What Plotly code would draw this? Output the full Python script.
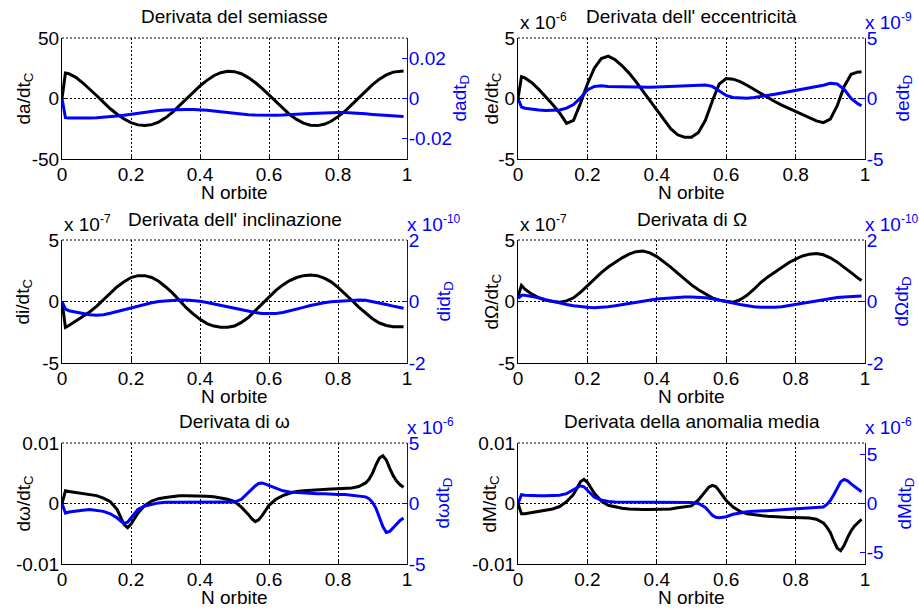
import plotly.graph_objects as go

# ---------------- data ----------------
X_TOP = [0, 0.01, 0.02, 0.04, 0.06, 0.08, 0.10, 0.12, 0.14, 0.16,
         0.18, 0.20, 0.22, 0.24, 0.26, 0.28, 0.30, 0.32, 0.34, 0.36,
         0.38, 0.40, 0.42, 0.44, 0.46, 0.48, 0.50, 0.52, 0.54, 0.56,
         0.58, 0.60, 0.62, 0.64, 0.66, 0.68, 0.70, 0.72, 0.74, 0.76,
         0.78, 0.80, 0.82, 0.84, 0.86, 0.88, 0.90, 0.92, 0.94, 0.96,
         0.98, 0.99]

X_BOTTOM = [0, 0.01, 0.02, 0.04, 0.06, 0.08, 0.10, 0.12, 0.14, 0.16,
            0.17, 0.18, 0.19, 0.20, 0.22, 0.24, 0.26, 0.28, 0.30, 0.32,
            0.34, 0.36, 0.38, 0.40, 0.42, 0.44, 0.46, 0.48, 0.50, 0.52,
            0.54, 0.55, 0.56, 0.57, 0.58, 0.59, 0.60, 0.62, 0.64, 0.66,
            0.68, 0.70, 0.72, 0.74, 0.76, 0.78, 0.80, 0.82, 0.84, 0.86,
            0.88, 0.89, 0.90, 0.91, 0.92, 0.93, 0.94, 0.95, 0.96, 0.97,
            0.98, 0.99]

# semi-major axis derivative
SEMI_C = [0, 21, 20.5, 17.5, 13, 8, 2.5, -3, -8.5, -13,
          -17, -20, -21.8, -22.4, -21.6, -19.5, -16, -11.5, -6, -0.5,
          5, 10.5, 15, 18.8, 21.3, 22.5, 22.2, 20.5, 17.3, 13.2,
          8.3, 2.8, -2.8, -8.3, -13.2, -17.3, -20.4, -22.1, -22.4, -21.3,
          -18.8, -15, -10.5, -5, 0.5, 6, 11.5, 16, 19.5, 21.8,
          22.8, 22.7]
SEMI_D = [0, -0.0095, -0.0097, -0.0098, -0.0098, -0.0097, -0.0096, -0.0094, -0.0091, -0.0087,
          -0.0083, -0.0078, -0.0073, -0.0068, -0.0064, -0.0060, -0.0057, -0.0055, -0.0054, -0.0054,
          -0.0054, -0.0055, -0.0058, -0.0062, -0.0066, -0.0070, -0.0074, -0.0077, -0.0080, -0.0082,
          -0.0083, -0.0083, -0.0083, -0.0082, -0.0081, -0.0079, -0.0077, -0.0075, -0.0073, -0.0071,
          -0.0070, -0.0069, -0.0070, -0.0071, -0.0073, -0.0076, -0.0079, -0.0082, -0.0084, -0.0086,
          -0.0088, -0.0089]

# eccentricity derivative (C: x1e-6, D: x1e-9)
ECC_C = [0, 1.8, 1.7, 1.3, 0.75, 0.15, -0.5, -1.2, -2.05, -1.8,
         -0.4, 1.2, 2.5, 3.3, 3.5, 3.2, 2.7, 2.1, 1.4, 0.6,
         -0.2, -1.0, -1.8, -2.5, -3.0, -3.2, -3.2, -2.8, -1.8, -0.2,
         1.2, 1.65, 1.6, 1.4, 1.1, 0.75, 0.4, 0.05, -0.25, -0.55,
         -0.8, -1.05, -1.3, -1.55, -1.85, -2.0, -1.7, -0.6, 1.0, 2.0,
         2.2, 2.2]
ECC_D = [0, -0.7, -0.8, -0.9, -0.95, -1.0, -1.0, -0.95, -0.8, -0.5,
         0.05, 0.7, 1.0, 1.05, 1.0, 0.98, 0.95, 0.93, 0.9, 0.9,
         0.92, 0.95, 0.97, 1.0, 1.02, 1.05, 1.08, 1.1, 1.12, 1.0,
         0.6, 0.25, 0.08, 0.02, 0.02, 0.08, 0.15, 0.25, 0.35, 0.45,
         0.55, 0.7, 0.8, 0.9, 1.0, 1.1, 1.25, 1.2, 0.75, 0.0,
         -0.45, -0.6]

# inclination derivative (C: x1e-7, D: x1e-10)
INC_C = [0, -2.1, -1.95, -1.6, -1.25, -0.85, -0.4, 0.15, 0.7, 1.2,
         1.6, 1.95, 2.1, 2.1, 1.95, 1.65, 1.2, 0.7, 0.1, -0.5,
         -1.0, -1.45, -1.8, -2.0, -2.1, -2.1, -2.0, -1.7, -1.3, -0.75,
         -0.15, 0.4, 0.9, 1.35, 1.7, 1.95, 2.1, 2.15, 2.1, 1.9,
         1.6, 1.15, 0.65, 0.1, -0.45, -0.95, -1.4, -1.75, -1.95, -2.05,
         -2.05, -2.05]
INC_D = [0, -0.25, -0.3, -0.35, -0.4, -0.43, -0.45, -0.43, -0.38, -0.32,
         -0.26, -0.2, -0.14, -0.09, -0.04, 0.0, 0.02, 0.04, 0.05, 0.05,
         0.04, 0.01, -0.03, -0.08, -0.13, -0.18, -0.23, -0.27, -0.32, -0.36,
         -0.39, -0.4, -0.39, -0.36, -0.31, -0.25, -0.19, -0.13, -0.08, -0.04,
         -0.01, 0.01, 0.03, 0.04, 0.05, 0.04, 0.0, -0.05, -0.1, -0.15,
         -0.2, -0.22]

# RAAN derivative (C: x1e-7, D: x1e-10)
RAAN_C = [0.4, 1.3, 1.0, 0.6, 0.3, 0.1, 0.0, -0.05, 0.05, 0.3,
          0.75, 1.3, 1.85, 2.35, 2.8, 3.2, 3.55, 3.85, 4.05, 4.1,
          3.95, 3.65, 3.25, 2.8, 2.3, 1.8, 1.35, 0.95, 0.6, 0.3,
          0.1, 0.0, -0.05, 0.15, 0.5, 1.0, 1.55, 2.0, 2.4, 2.8,
          3.15, 3.45, 3.7, 3.85, 3.9, 3.8, 3.55, 3.2, 2.8, 2.35,
          1.9, 1.7]
RAAN_D = [0.1, 0.2, 0.2, 0.17, 0.12, 0.06, 0.0, -0.05, -0.1, -0.14,
          -0.17, -0.19, -0.2, -0.19, -0.17, -0.14, -0.1, -0.06, -0.02, 0.02,
          0.05, 0.08, 0.1, 0.12, 0.14, 0.15, 0.15, 0.14, 0.12, 0.09,
          0.05, 0.0, -0.05, -0.1, -0.14, -0.17, -0.19, -0.2, -0.19, -0.17,
          -0.13, -0.09, -0.05, -0.01, 0.03, 0.07, 0.1, 0.13, 0.15, 0.17,
          0.18, 0.18]

# argument of perigee derivative (C: plain, D: x1e-6)
ARGP_C = [0, 0.0021, 0.0020, 0.0018, 0.0016, 0.0015, 0.0013, 0.0009, 0.0003, -0.0010,
          -0.0022, -0.0035, -0.0040, -0.0034, -0.0016, -0.0003, 0.0004, 0.0008, 0.0010, 0.0012,
          0.0013, 0.0013, 0.0013, 0.0013, 0.0012, 0.0011, 0.0009, 0.0007, 0.0003, -0.0006,
          -0.0018, -0.0025, -0.0030, -0.0027, -0.0020, -0.0011, -0.0003, 0.0007, 0.0013, 0.0017,
          0.0020, 0.0021, 0.0022, 0.0023, 0.00235, 0.0024, 0.00245, 0.0025, 0.00255, 0.0028,
          0.0034, 0.0040, 0.0050, 0.0064, 0.0075, 0.0079, 0.0072, 0.0058, 0.0046, 0.0037,
          0.0031, 0.0027]
ARGP_D = [0, -0.8, -0.7, -0.6, -0.55, -0.5, -0.55, -0.65, -0.85, -1.2,
          -1.45, -1.65, -1.55, -1.2, -0.5, -0.2, -0.05, 0.05, 0.1, 0.1,
          0.1, 0.1, 0.1, 0.1, 0.1, 0.1, 0.1, 0.1, 0.12, 0.35,
          0.9, 1.2, 1.45, 1.65, 1.7, 1.6, 1.5, 1.25, 1.05, 0.95,
          0.9, 0.85, 0.85, 0.8, 0.8, 0.75, 0.75, 0.75, 0.7, 0.65,
          0.55, 0.4, 0.1, -0.4, -1.1, -1.9, -2.4, -2.3, -2.0, -1.7,
          -1.4, -1.2]

# mean anomaly derivative (C: plain, D: x1e-6)
MANOM_C = [0, -0.0017, -0.0017, -0.0015, -0.0013, -0.0011, -0.0009, -0.0005, 0.0003, 0.0015,
           0.0026, 0.0036, 0.0040, 0.0035, 0.0017, 0.0004, -0.0003, -0.0006, -0.0008, -0.0009,
           -0.0010, -0.0010, -0.0010, -0.0010, -0.0010, -0.0009, -0.0007, -0.0005, -0.0004, 0.0006,
           0.0020, 0.0027, 0.0030, 0.0028, 0.0021, 0.0013, 0.0005, -0.0006, -0.0013, -0.0017,
           -0.0019, -0.0020, -0.0021, -0.0022, -0.0022, -0.0023, -0.0023, -0.0023, -0.0024, -0.0026,
           -0.0032, -0.0039, -0.0048, -0.0062, -0.0074, -0.0078, -0.0069, -0.0056, -0.0045, -0.0037,
           -0.0031, -0.0026]
MANOM_D = [0, 0.9, 0.85, 0.8, 0.8, 0.8, 0.8, 0.85, 1.0, 1.35,
           1.6, 1.8, 1.7, 1.35, 0.65, 0.35, 0.2, 0.15, 0.15, 0.12,
           0.12, 0.1, 0.1, 0.1, 0.1, 0.1, 0.1, 0.1, 0.1, 0.0,
           -0.4, -0.8, -1.2, -1.4, -1.45, -1.4, -1.35, -1.1, -0.95, -0.85,
           -0.8, -0.78, -0.72, -0.68, -0.63, -0.58, -0.55, -0.5, -0.47, -0.45,
           -0.35, -0.1, 0.3, 0.9, 1.6, 2.2, 2.45, 2.3, 2.0, 1.7,
           1.4, 1.2]

TITLES = ["Derivata del semiasse", "Derivata dell' eccentricità",
          "Derivata dell' inclinazione", "Derivata di Ω",
          "Derivata di ω", "Derivata della anomalia media"]
LABELS_C = ["da/dt<sub>C</sub>", "de/dt<sub>C</sub>", "di/dt<sub>C</sub>",
            "dΩ/dt<sub>C</sub>", "dω/dt<sub>C</sub>", "dM/dt<sub>C</sub>"]
LABELS_D = ["dadt<sub>D</sub>", "dedt<sub>D</sub>", "didt<sub>D</sub>",
            "dΩdt<sub>D</sub>", "dωdt<sub>D</sub>", "dMdt<sub>D</sub>"]
EXP_C = [None, "-6", "-7", "-7", None, None]
EXP_D = [None, "-9", "-10", "-10", "-6", "-6"]
X_TICKS = [0, 0.2, 0.4, 0.6, 0.8, 1]
X_TICKTEXT = ["0", "0.2", "0.4", "0.6", "0.8", "1"]
X_LABEL = "N orbite"

LEFT_TICKS = [[-50, 0, 50], [-5, 0, 5], [-5, 0, 5], [-5, 0, 5], [-0.01, 0, 0.01], [-0.01, 0, 0.01]]
LEFT_TICKTEXT = [["-50", "0", "50"], ["-5", "0", "5"], ["-5", "0", "5"], ["-5", "0", "5"],
                 ["-0.01", "0", "0.01"], ["-0.01", "0", "0.01"]]
RIGHT_TICKS = [[-0.02, 0, 0.02], [-5, 0, 5], [-2, 0, 2], [-2, 0, 2], [-5, 0, 5], [-5, 0, 5]]
RIGHT_TICKTEXT = [["-0.02", "0", "0.02"], ["-5", "0", "5"], ["-2", "0", "2"], ["-2", "0", "2"],
                  ["-5", "0", "5"], ["-5", "0", "5"]]

SERIES = [(X_TOP, SEMI_C, SEMI_D), (X_TOP, ECC_C, ECC_D), (X_TOP, INC_C, INC_D),
          (X_TOP, RAAN_C, RAAN_D), (X_BOTTOM, ARGP_C, ARGP_D), (X_BOTTOM, MANOM_C, MANOM_D)]

# ---------------- layout / styling ----------------
W, H = 919, 610
FONT = "Liberation Sans, Arial, Helvetica, sans-serif"
FS = 19
BLUE = "#0000ff"
COL_PX = [(62, 407), (518, 865)]
ROW_PX = [(38, 159), (240, 363), (443, 564)]
LEFT_RANGE = [[-50, 50], [-5, 5], [-5, 5], [-5, 5], [-0.01, 0.01], [-0.01, 0.01]]
RIGHT_RANGE = [[-0.03, 0.03], [-5, 5], [-2, 2], [-2, 2], [-5, 5], [-6.15, 6.15]]
LABEL_C_X = [24, 492, 23, 492, 25, 491]
LABEL_D_X = [460, 903, 444, 902, 444, 906]


def px(x):
    return x / W


def py(y):
    return 1 - y / H


fig = go.Figure()
layout = dict(width=W, height=H, autosize=False,
              margin=dict(l=0, r=0, t=0, b=0, pad=0),
              paper_bgcolor="white", plot_bgcolor="white",
              font=dict(family=FONT, size=FS, color="black"),
              showlegend=False)
annotations = []
shapes = []

for i in range(6):
    row, col = divmod(i, 2)
    x0, x1 = COL_PX[col]
    yt, yb = ROW_PX[row]
    xa = "x" if i == 0 else f"x{i+1}"
    yl = "y" if i == 0 else f"y{2*i+1}"
    yr = f"y{2*i+2}"
    xk = "xaxis" if i == 0 else f"xaxis{i+1}"
    ylk = "yaxis" if i == 0 else f"yaxis{2*i+1}"
    yrk = f"yaxis{2*i+2}"
    xs, yc, yd = SERIES[i]

    fig.add_trace(go.Scatter(x=xs, y=yc, xaxis=xa, yaxis=yl, mode="lines",
                             line=dict(color="black", width=3), hoverinfo="skip"))
    fig.add_trace(go.Scatter(x=xs, y=yd, xaxis=xa, yaxis=yr, mode="lines",
                             line=dict(color=BLUE, width=3), hoverinfo="skip"))

    layout[xk] = dict(domain=[px(x0), px(x1)], anchor=yl, range=[0, 1], automargin=False,
                      tickvals=X_TICKS, ticktext=X_TICKTEXT, ticks="inside", ticklen=5,
                      tickcolor="black", showline=True, linecolor="black", linewidth=1,
                      showgrid=True, gridcolor="black", griddash="2px,2px", gridwidth=1,
                      zeroline=False, tickfont=dict(size=FS, color="black"),
                      ticklabelstandoff=-2, fixedrange=True)
    layout[ylk] = dict(domain=[py(yb), py(yt)], anchor=xa, range=LEFT_RANGE[i], automargin=False,
                       tickvals=LEFT_TICKS[i], ticktext=LEFT_TICKTEXT[i], ticks="inside",
                       ticklen=5, tickcolor="black", showline=True, linecolor="black",
                       linewidth=1, showgrid=True, gridcolor="black", griddash="2px,2px",
                       gridwidth=1, zeroline=False, tickfont=dict(size=FS, color="black"),
                       ticklabelstandoff=-2, fixedrange=True)
    layout[yrk] = dict(overlaying=yl, side="right", anchor=xa, range=RIGHT_RANGE[i],
                       automargin=False,
                       tickvals=RIGHT_TICKS[i], ticktext=RIGHT_TICKTEXT[i], ticks="inside",
                       ticklen=5, tickcolor=BLUE, showline=True, linecolor=BLUE,
                       linewidth=1, showgrid=False, zeroline=False,
                       tickfont=dict(size=FS, color=BLUE), ticklabelstandoff=-3,
                       fixedrange=True)

    # dotted grid line along the top edge of the box (MATLAB style)
    shapes.append(dict(type="line", xref="paper", yref="paper",
                       x0=px(x0), x1=px(x1), y0=py(yt), y1=py(yt),
                       line=dict(color="black", width=1, dash="2px,2px"), layer="below"))

    cx = (x0 + x1) / 2
    cy = (yt + yb) / 2
    annotations.append(dict(text=TITLES[i], x=px(cx), y=py(yt - 21), xref="paper", yref="paper",
                            xanchor="center", yanchor="middle", showarrow=False,
                            font=dict(size=FS, color="black")))
    annotations.append(dict(text=X_LABEL, x=px(cx), y=py(yb + 33), xref="paper", yref="paper",
                            xanchor="center", yanchor="middle", showarrow=False,
                            font=dict(size=FS, color="black")))
    annotations.append(dict(text=LABELS_C[i], x=px(LABEL_C_X[i]), y=py(cy), xref="paper",
                            yref="paper", xanchor="center", yanchor="middle", textangle=-90,
                            showarrow=False, font=dict(size=FS, color="black")))
    annotations.append(dict(text=LABELS_D[i], x=px(LABEL_D_X[i]), y=py(cy), xref="paper",
                            yref="paper", xanchor="center", yanchor="middle", textangle=-90,
                            showarrow=False, font=dict(size=FS, color=BLUE)))
    if EXP_C[i]:
        annotations.append(dict(text=f"x 10<sup><span style='font-size:12px'>{EXP_C[i]}</span></sup>",
                                x=px(x0), y=py(yt - 3),
                                xref="paper", yref="paper", xanchor="left", yanchor="bottom",
                                showarrow=False, font=dict(size=FS, color="black")))
    if EXP_D[i]:
        annotations.append(dict(text=f"x 10<sup><span style='font-size:12px'>{EXP_D[i]}</span></sup>",
                                x=px(x1 - 2), y=py(yt - 3),
                                xref="paper", yref="paper", xanchor="left", yanchor="bottom",
                                showarrow=False, font=dict(size=FS, color=BLUE)))

layout["annotations"] = annotations
layout["shapes"] = shapes
fig.update_layout(**layout)
fig.write_html("out.html", config={"displayModeBar": False},
               post_script="document.body.style.margin='0';document.body.style.overflow='hidden';")
